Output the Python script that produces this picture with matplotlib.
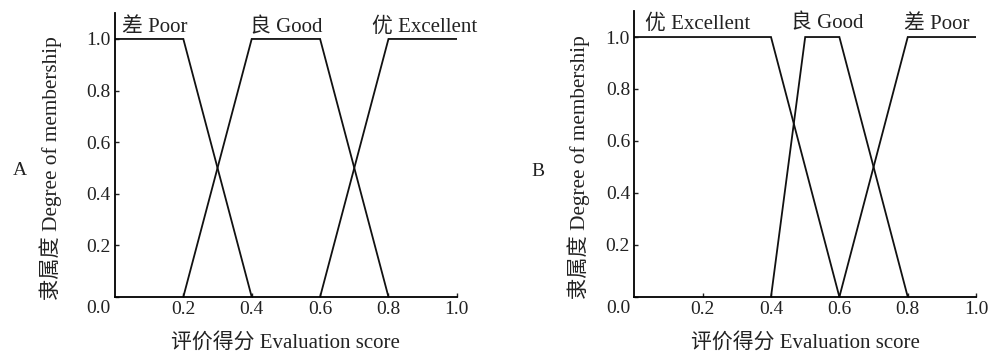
import matplotlib
matplotlib.use("Agg")
import matplotlib.pyplot as plt
from matplotlib.transforms import ScaledTranslation

plt.rcParams['font.family'] = ['Liberation Serif', 'Noto Sans CJK SC', 'DejaVu Sans']

# Panel A membership functions
a_x_poor = [0.0, 0.2, 0.4]
a_y_poor = [1.0, 1.0, 0.0]
a_x_good = [0.2, 0.4, 0.6, 0.8]
a_y_good = [0.0, 1.0, 1.0, 0.0]
a_x_exc = [0.6, 0.8, 1.0]
a_y_exc = [0.0, 1.0, 1.0]

# Panel B membership functions
b_x_exc = [0.0, 0.4, 0.6]
b_y_exc = [1.0, 1.0, 0.0]
b_x_good = [0.4, 0.5, 0.6, 0.8]
b_y_good = [0.0, 1.0, 1.0, 0.0]
b_x_poor = [0.6, 0.8, 1.0]
b_y_poor = [0.0, 1.0, 1.0]

a_labels = ["差 Poor", "良 Good", "优 Excellent"]
a_label_x = [0.115, 0.50, 0.906]
b_labels = ["优 Excellent", "良 Good", "差 Poor"]
b_label_x = [0.184, 0.565, 0.886]

xticks = [0.2, 0.4, 0.6, 0.8, 1.0]
yticks = [0.0, 0.2, 0.4, 0.6, 0.8, 1.0]
xlabel = "评价得分 Evaluation score"
ylabel = "隶属度 Degree of membership"

fig = plt.figure(figsize=(9.91, 3.56), dpi=100)
axA = fig.add_axes([0.116, 0.166, 0.345, 0.797])
axB = fig.add_axes([0.640, 0.166, 0.345, 0.803])

def style(ax, series, labels, label_x, label_y, panel, panel_x, panel_y, ylab_x):
    for xs, ys in series:
        ax.plot(xs, ys, color='#111111', lw=1.3, solid_joinstyle='miter')
    ax.set_xlim(0, 1.0)
    ax.set_ylim(0, 1.1)
    ax.spines['top'].set_visible(False)
    ax.spines['right'].set_visible(False)
    for s in ['left', 'bottom']:
        ax.spines[s].set_linewidth(1.3)
    ax.set_xticks(xticks)
    ax.set_xticklabels([f"{v:.1f}" for v in xticks])
    ax.set_yticks(yticks)
    ax.set_yticklabels([f"{v:.1f}" for v in yticks])
    ax.tick_params(direction='in', length=3, width=1, labelsize=14, pad=3, colors='#222222')
    # 0.0 y label sits a little lower in the reference
    lab0 = ax.get_yticklabels()[0]
    lab0.set_transform(lab0.get_transform() + ScaledTranslation(0, -7/72, fig.dpi_scale_trans))
    ax.set_xlabel(xlabel, fontsize=15, color='#222222')
    ax.set_ylabel(ylabel, fontsize=15.3, color='#222222')
    ax.xaxis.set_label_coords(0.5, -0.125)
    ax.yaxis.set_label_coords(ylab_x, 0.455)
    for t, xv in zip(labels, label_x):
        ax.text(xv, label_y, t, ha='center', va='center', fontsize=15, color='#222222')
    fig.text(panel_x, panel_y, panel, ha='center', va='center', fontsize=14, color='#222222')

style(axA, [(a_x_poor, a_y_poor), (a_x_good, a_y_good), (a_x_exc, a_y_exc)],
      a_labels, a_label_x, 1.045, "A", 0.020, 0.522, -0.155)
style(axB, [(b_x_exc, b_y_exc), (b_x_good, b_y_good), (b_x_poor, b_y_poor)],
      b_labels, b_label_x, 1.05, "B", 0.543, 0.517, -0.129)

fig.savefig("out.png", dpi=100)
